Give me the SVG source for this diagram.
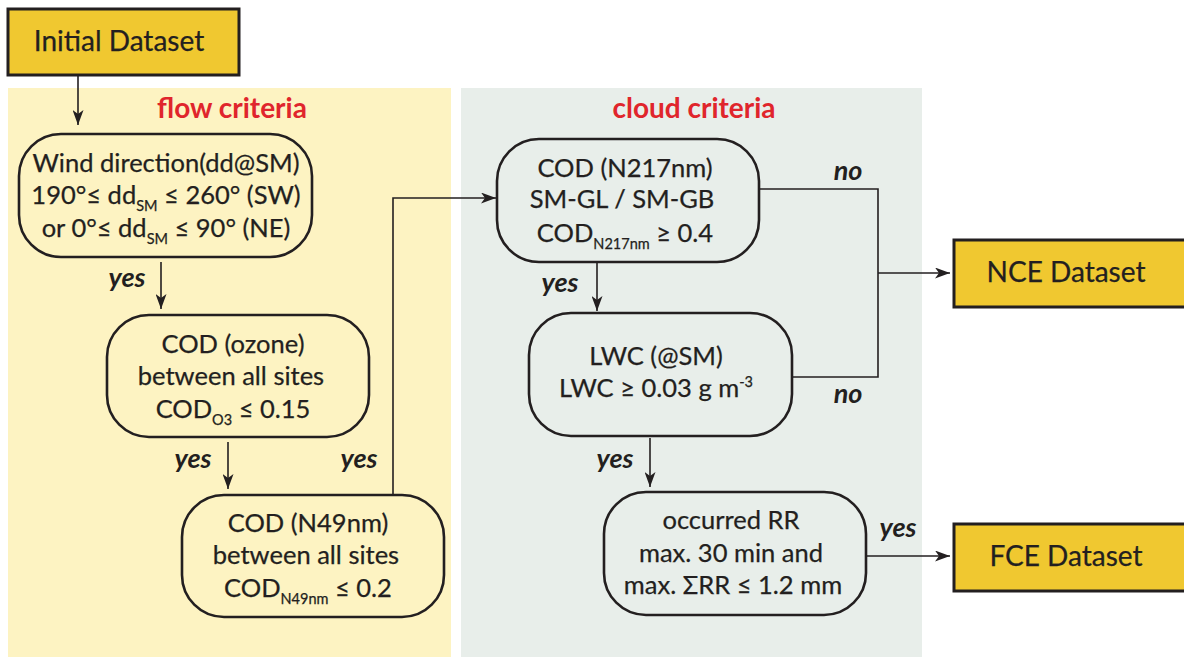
<svg xmlns="http://www.w3.org/2000/svg" width="1184" height="657" viewBox="0 0 1184 657">
<style>
.panelY{fill:#fdf3c2}
.panelG{fill:#e8eeea}
.ds{fill:#f0c830;stroke:#231f20;stroke-width:3}
.box{fill:none;stroke:#231f20;stroke-width:2.6}
.t{font-family:Lato,"Open Sans",sans-serif;font-size:25.5px;fill:#231f20;text-anchor:middle;stroke:#231f20;stroke-width:0.25}
.dt{font-family:Lato,"Open Sans",sans-serif;font-size:28px;fill:#231f20;text-anchor:middle;stroke:#231f20;stroke-width:0.25}
.hd{font-family:Lato,"Open Sans",sans-serif;font-size:28px;font-weight:bold;fill:#e0252c;text-anchor:middle}
.lb{font-family:Lato,"Open Sans",sans-serif;font-size:27px;font-weight:bold;font-style:italic;fill:#231f20;text-anchor:middle}
.sub{font-size:14.5px}
.c{fill:none;stroke:#231f20;stroke-width:1.6}
</style>
<defs>
<marker id="ah" viewBox="0 0 15 11" refX="15" refY="5.5" markerWidth="15" markerHeight="11" markerUnits="userSpaceOnUse" orient="auto">
<path d="M0,0 L15,5.5 L0,11 L4,5.5 Z" fill="#231f20"/>
</marker>
</defs>
<rect class="panelY" x="8" y="88" width="443" height="569"/>
<rect class="panelG" x="461" y="88" width="461" height="569"/>
<text class="hd" x="232" y="118">flow criteria</text>
<text class="hd" x="694" y="118">cloud criteria</text>

<g id="initial">
<rect class="ds" x="8" y="9" width="231" height="66"/>
<text class="dt" x="119" y="51">Initial Dataset</text>
</g>
<g id="wind">
<rect class="box" x="19" y="134" width="293" height="123" rx="42"/>
<text class="t" x="166" y="172">Wind direction(dd@SM)</text>
<text class="t" x="166" y="204">190°≤ dd<tspan class="sub" dy="7">SM</tspan><tspan dy="-7"> ≤ 260° (SW)</tspan></text>
<text class="t" x="166" y="237">or 0°≤ dd<tspan class="sub" dy="7">SM</tspan><tspan dy="-7"> ≤ 90° (NE)</tspan></text>
</g>
<g id="ozone">
<rect class="box" x="107" y="315" width="262" height="122" rx="42"/>
<text class="t" x="233" y="353">COD (ozone)</text>
<text class="t" x="231" y="385">between all sites</text>
<text class="t" x="233" y="418">COD<tspan class="sub" dy="7">O3</tspan><tspan dy="-7"> ≤ 0.15</tspan></text>
</g>
<g id="n49">
<rect class="box" x="182" y="495" width="262" height="122" rx="42"/>
<text class="t" x="308" y="532">COD (N49nm)</text>
<text class="t" x="306" y="564">between all sites</text>
<text class="t" x="308" y="597">COD<tspan class="sub" dy="7">N49nm</tspan><tspan dy="-7"> ≤ 0.2</tspan></text>
</g>
<g id="n217">
<rect class="box" x="497" y="139" width="262" height="123" rx="42"/>
<text class="t" x="625" y="177">COD (N217nm)</text>
<text class="t" x="622" y="208">SM-GL / SM-GB</text>
<text class="t" x="625" y="242">COD<tspan class="sub" dy="7">N217nm</tspan><tspan dy="-7"> ≥ 0.4</tspan></text>
</g>
<g id="lwc">
<rect class="box" x="529" y="313" width="263" height="123" rx="42"/>
<text class="t" x="656" y="365">LWC (@SM)</text>
<text class="t" x="656" y="397">LWC ≥ 0.03 g m<tspan class="sub" dy="-10">-3</tspan></text>
</g>
<g id="rr">
<rect class="box" x="604" y="492" width="262" height="123" rx="42"/>
<text class="t" x="731" y="529">occurred RR</text>
<text class="t" x="731" y="562">max. 30 min and</text>
<text class="t" x="733" y="594">max. ΣRR ≤ 1.2 mm</text>
</g>
<g id="nce">
<rect class="ds" x="954" y="240" width="232" height="67"/>
<text class="dt" x="1066" y="282">NCE Dataset</text>
</g>
<g id="fce">
<rect class="ds" x="954" y="524" width="232" height="67"/>
<text class="dt" x="1066" y="566">FCE Dataset</text>
</g>

<g id="connectors">
<line class="c" x1="78" y1="76" x2="78" y2="125" marker-end="url(#ah)"/>
<line class="c" x1="161" y1="262" x2="161" y2="309" marker-end="url(#ah)"/>
<line class="c" x1="228" y1="442" x2="228" y2="489" marker-end="url(#ah)"/>
<polyline class="c" points="393,494 393,198 496,198" marker-end="url(#ah)"/>
<line class="c" x1="597" y1="263" x2="597" y2="311" marker-end="url(#ah)"/>
<line class="c" x1="650" y1="438" x2="650" y2="487" marker-end="url(#ah)"/>
<polyline class="c" points="759,189 878,189 878,377 792,377"/>
<line class="c" x1="878" y1="273" x2="950" y2="273" marker-end="url(#ah)"/>
<line class="c" x1="866" y1="556" x2="950" y2="556" marker-end="url(#ah)"/>
<text class="lb" x="127" y="287">yes</text>
<text class="lb" x="193" y="468">yes</text>
<text class="lb" x="359" y="468">yes</text>
<text class="lb" x="560" y="292">yes</text>
<text class="lb" x="615" y="468">yes</text>
<text class="lb" x="898" y="537">yes</text>
<text class="lb" x="848" y="180">no</text>
<text class="lb" x="848" y="403">no</text>
</g>
</svg>
